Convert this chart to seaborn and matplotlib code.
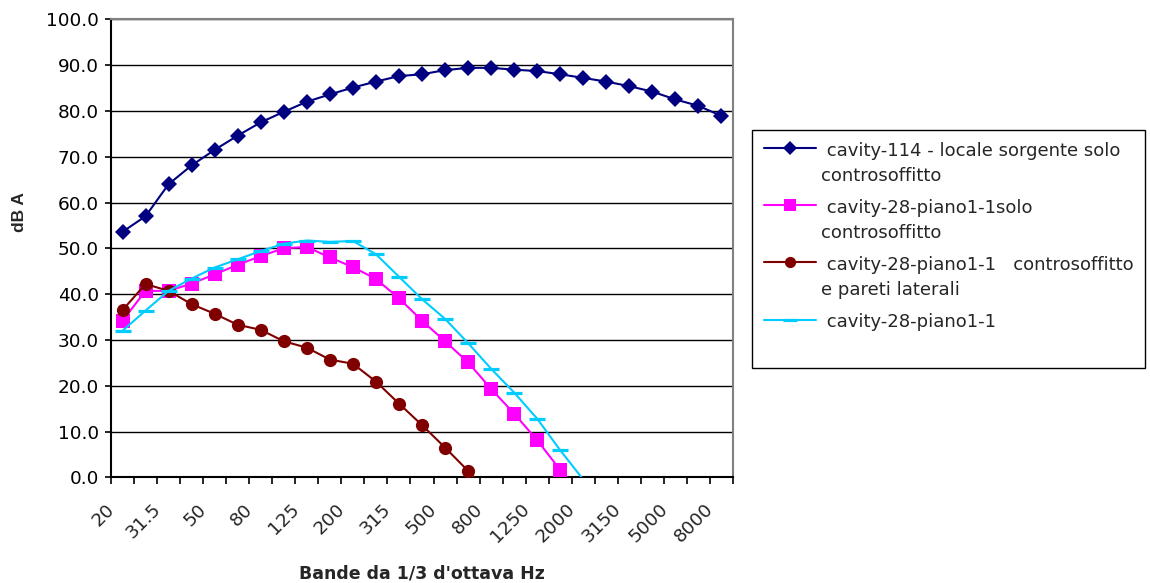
import numpy as np
import matplotlib
matplotlib.use("Agg")
import matplotlib.pyplot as plt
import matplotlib.transforms as mtransforms
import seaborn as sns

# 1/3 octave bands (Hz)
bands = ["20", "25", "31.5", "40", "50", "63", "80", "100", "125", "160", "200",
         "250", "315", "400", "500", "630", "800", "1000", "1250", "1600", "2000",
         "2500", "3150", "4000", "5000", "6300", "8000"]

# Series values (dB A); trailing negative values run off the bottom of the chart
cavity114 = [53.6, 57.0, 64.0, 68.1, 71.5, 74.6, 77.5, 79.8, 82.0, 83.6, 85.1,
             86.4, 87.6, 88.0, 88.9, 89.4, 89.4, 89.0, 88.7, 88.0, 87.2, 86.4,
             85.4, 84.2, 82.5, 81.1, 78.9]
cavity28_solo = [34.2, 40.7, 40.7, 42.3, 44.3, 46.4, 48.3, 50.0, 50.3, 48.0, 45.9,
                 43.3, 39.1, 34.2, 29.7, 25.1, 19.3, 13.9, 8.1, 1.6, -4.0]
cavity28_pareti = [36.5, 42.2, 40.7, 37.8, 35.7, 33.3, 32.2, 29.7, 28.3, 25.7, 24.8,
                   20.9, 16.1, 11.4, 6.5, 1.4, -4.0]
cavity28 = [32.0, 36.4, 40.7, 43.4, 45.8, 47.6, 49.4, 51.0, 51.7, 51.4, 51.6,
            48.7, 43.8, 38.9, 34.6, 29.3, 23.7, 18.5, 12.8, 5.9, -0.5, -7.0]

series_labels = [" cavity-114 - locale sorgente solo\ncontrosoffitto",
                 " cavity-28-piano1-1solo\ncontrosoffitto",
                 " cavity-28-piano1-1   controsoffitto\ne pareti laterali",
                 " cavity-28-piano1-1\n"]
series_colors = ["#000080", "#FF00FF", "#800000", "#00CCFF"]
yticks = [0, 10, 20, 30, 40, 50, 60, 70, 80, 90, 100]

sns.set_theme(style="white")
plt.rcParams["font.family"] = ["DejaVu Sans"]

W, H = 1150, 583
fig = plt.figure(figsize=(W / 100, H / 100), dpi=100)
L, R, T, B = 111, 733, 19.3, 477.3
ax = fig.add_axes([L / W, 1 - B / H, (R - L) / W, (B - T) / H])

styles = [
    dict(marker="D", markersize=8.0, markeredgewidth=0),
    dict(marker="s", markersize=10.5, markeredgewidth=0),
    dict(marker="o", markersize=9.5, markeredgewidth=0),
    dict(marker="_", markersize=12, markeredgewidth=2.3),
]
all_series = [cavity114, cavity28_solo, cavity28_pareti, cavity28]
handles = []
for i, (vals, col, lab, st) in enumerate(zip(all_series, series_colors, series_labels, styles)):
    x = np.arange(len(vals))
    sns.lineplot(x=x, y=vals, ax=ax, color=col, linewidth=1.5,
                 markeredgecolor=col, markerfacecolor=col, label=lab,
                 zorder=3 + i, **st)
    handles.append(ax.lines[-1])

ax.set_xlim(-0.5, len(bands) - 0.5)
ax.set_ylim(0, 100)

# y axis
ax.set_yticks(yticks)
ax.set_yticklabels([f"{v:.1f}" for v in yticks])
ax.tick_params(axis="y", direction="out", length=4.3, width=1.2, pad=4.3,
               labelsize=13.3, colors="black", left=True)
ax.yaxis.grid(True, color="black", linewidth=1.0)
ax.xaxis.grid(False)
ax.set_axisbelow(True)

# x axis: tick marks between categories, labels on every other category
ax.set_xticks(np.arange(-0.5, len(bands), 1.0))
ax.set_xticklabels([])
ax.tick_params(axis="x", which="major", direction="out", length=5, width=1.2,
               colors="black", bottom=True)
ax.set_xticks(np.arange(0, len(bands), 2), minor=True)
ax.set_xticklabels(bands[::2], minor=True)
ax.tick_params(axis="x", which="minor", length=0, pad=16.5, labelsize=13.3,
               bottom=True)
shift = mtransforms.ScaledTranslation(-17 / 100, 0, fig.dpi_scale_trans)
for lab in ax.get_xticklabels(minor=True):
    lab.set_rotation(45)
    lab.set_ha("right")
    lab.set_va("top")
    lab.set_rotation_mode("anchor")
    lab.set_transform(lab.get_transform() + shift)

for s in ["left", "bottom"]:
    ax.spines[s].set_color("black")
    ax.spines[s].set_linewidth(1.5)
for s in ["top", "right"]:
    ax.spines[s].set_color("#808080")
    ax.spines[s].set_linewidth(1.5)
    ax.spines[s].set_visible(True)

ax.set_xlabel("Bande da 1/3 d'ottava Hz", fontsize=12.5, fontweight="bold")
ax.xaxis.set_label_coords(0.5, -(573 - B) / (B - T))
ax.xaxis.label.set_va("center")
ax.set_ylabel("dB A", fontsize=12.5, fontweight="bold", family="Liberation Sans")
ax.yaxis.set_label_coords((19 - L) / (R - L), 1 - (212 - T) / (B - T))
ax.yaxis.label.set_va("center")

leg = ax.legend(handles=handles, labels=series_labels, loc="upper left",
                bbox_to_anchor=(752 / W, 1 - 130 / H), bbox_transform=fig.transFigure,
                borderaxespad=0, frameon=True, fancybox=False, shadow=False,
                fontsize=13.0, handlelength=2.9, handleheight=0.8,
                handletextpad=0.25, borderpad=0.65, labelspacing=0.78,
                markerscale=0.85, framealpha=1)
leg.get_frame().set_edgecolor("black")
leg.get_frame().set_linewidth(1.0)
for t in leg.get_texts():
    t.set_linespacing(1.5)
for col in leg._legend_handle_box.get_children():
    for item in col.get_children():
        item.align = "top"

fig.savefig("out.png", dpi=100, facecolor="white")
